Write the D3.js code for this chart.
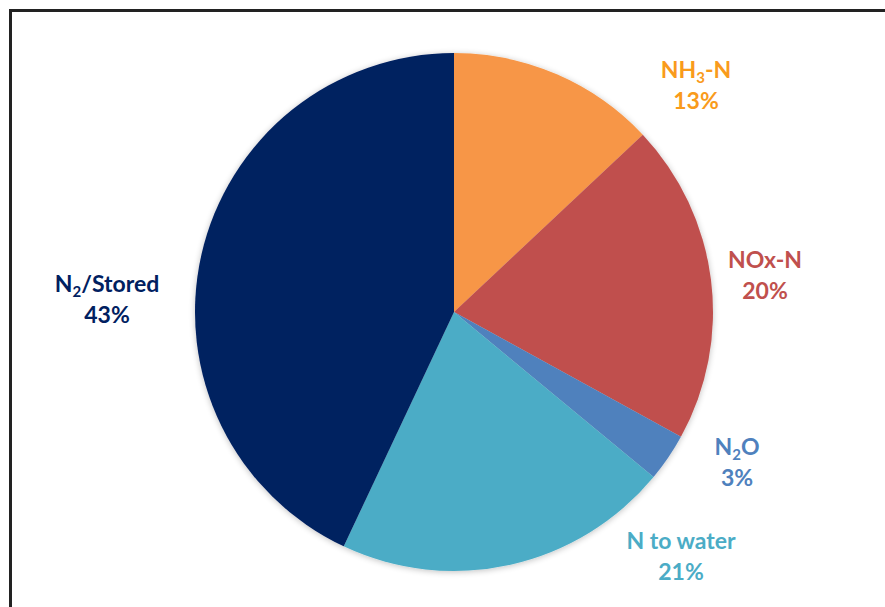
<!DOCTYPE html>
<html>
<head>
<meta charset="utf-8">
<script src="https://cdn.jsdelivr.net/npm/d3@7"></script>
<style>
  body { margin: 0; background: #fff; }
  text { font-family: Lato, "Open Sans", sans-serif; font-weight: bold; }
</style>
</head>
<body>
<script>
// slice data, clockwise from 12 o'clock
var names = ['NH3-N', 'NOx-N', 'N2O', 'N to water', 'N2/Stored'];
var values = [13, 20, 3, 21, 43];
// label pieces: [main, subscript, rest]
var labelParts = [['NH', '3', '-N'], ['NOx-N', '', ''], ['N', '2', 'O'], ['N to water', '', ''], ['N', '2', '/Stored']];
var fills = ['#F79646', '#C0504D', '#4F81BD', '#4BACC6', '#002060'];
var labelColors = ['#F99B1C', '#C0504D', '#4F81BD', '#4BACC6', '#002060'];

var width = 885, height = 607;
var cx = 454, cy = 312, radius = 259;
// label anchors relative to the pie centre (roughly where excel put them)
var labelOffset = [[242, -234], [311, -44], [283, 143], [227, 237], [-347, -20]];

var svg = d3.select('body').append('svg')
    .attr('width', width)
    .attr('height', height);

// soft shadow round the pie
var defs = svg.append('defs');
var f = defs.append('filter').attr('id', 'soft')
    .attr('x', '-10%').attr('y', '-10%').attr('width', '120%').attr('height', '120%');
f.append('feGaussianBlur').attr('in', 'SourceAlpha').attr('stdDeviation', 3).attr('result', 'b');
f.append('feOffset').attr('in', 'b').attr('dx', 0).attr('dy', 1).attr('result', 'o');
f.append('feComponentTransfer').attr('in', 'o').attr('result', 's')
    .append('feFuncA').attr('type', 'linear').attr('slope', 0.25);
var m = f.append('feMerge');
m.append('feMergeNode').attr('in', 's');
m.append('feMergeNode').attr('in', 'SourceGraphic');

// frame
svg.append('rect')
    .attr('x', 10.5).attr('y', 10.5)
    .attr('width', width + 20).attr('height', height + 20)
    .attr('fill', 'none')
    .attr('stroke', '#222')
    .attr('stroke-width', 3);

var pie = d3.pie().sort(null).value(function(d) { return d; });
var arc = d3.arc().innerRadius(0).outerRadius(radius);
var arcs = pie(values);

var g = svg.append('g')
    .attr('transform', 'translate(' + cx + ',' + cy + ')');

g.append('g').attr('filter', 'url(#soft)')
    .selectAll('path')
    .data(arcs)
    .enter().append('path')
    .attr('d', arc)
    .attr('fill', function(d, i) { return fills[i]; });

var lab = g.selectAll('.lab')
    .data(arcs)
    .enter().append('g')
    .attr('class', 'lab')
    .attr('transform', function(d, i) {
        return 'translate(' + labelOffset[i][0] + ',' + labelOffset[i][1] + ')';
    })
    .attr('fill', function(d, i) { return labelColors[i]; });

var line1 = lab.append('text')
    .attr('text-anchor', 'middle')
    .attr('y', 0)
    .style('font-size', '23px');
line1.append('tspan').text(function(d, i) { return labelParts[i][0]; });
line1.append('tspan')
    .style('font-size', '15px')
    .attr('dy', function(d, i) { return labelParts[i][1] ? 5 : 0; })
    .text(function(d, i) { return labelParts[i][1]; });
line1.append('tspan')
    .attr('dy', function(d, i) { return labelParts[i][1] ? -5 : 0; })
    .text(function(d, i) { return labelParts[i][2]; });

lab.append('text')
    .attr('text-anchor', 'middle')
    .attr('y', 31)
    .style('font-size', '23px')
    .text(function(d) { return d.data + '%'; });
</script>
</body>
</html>
